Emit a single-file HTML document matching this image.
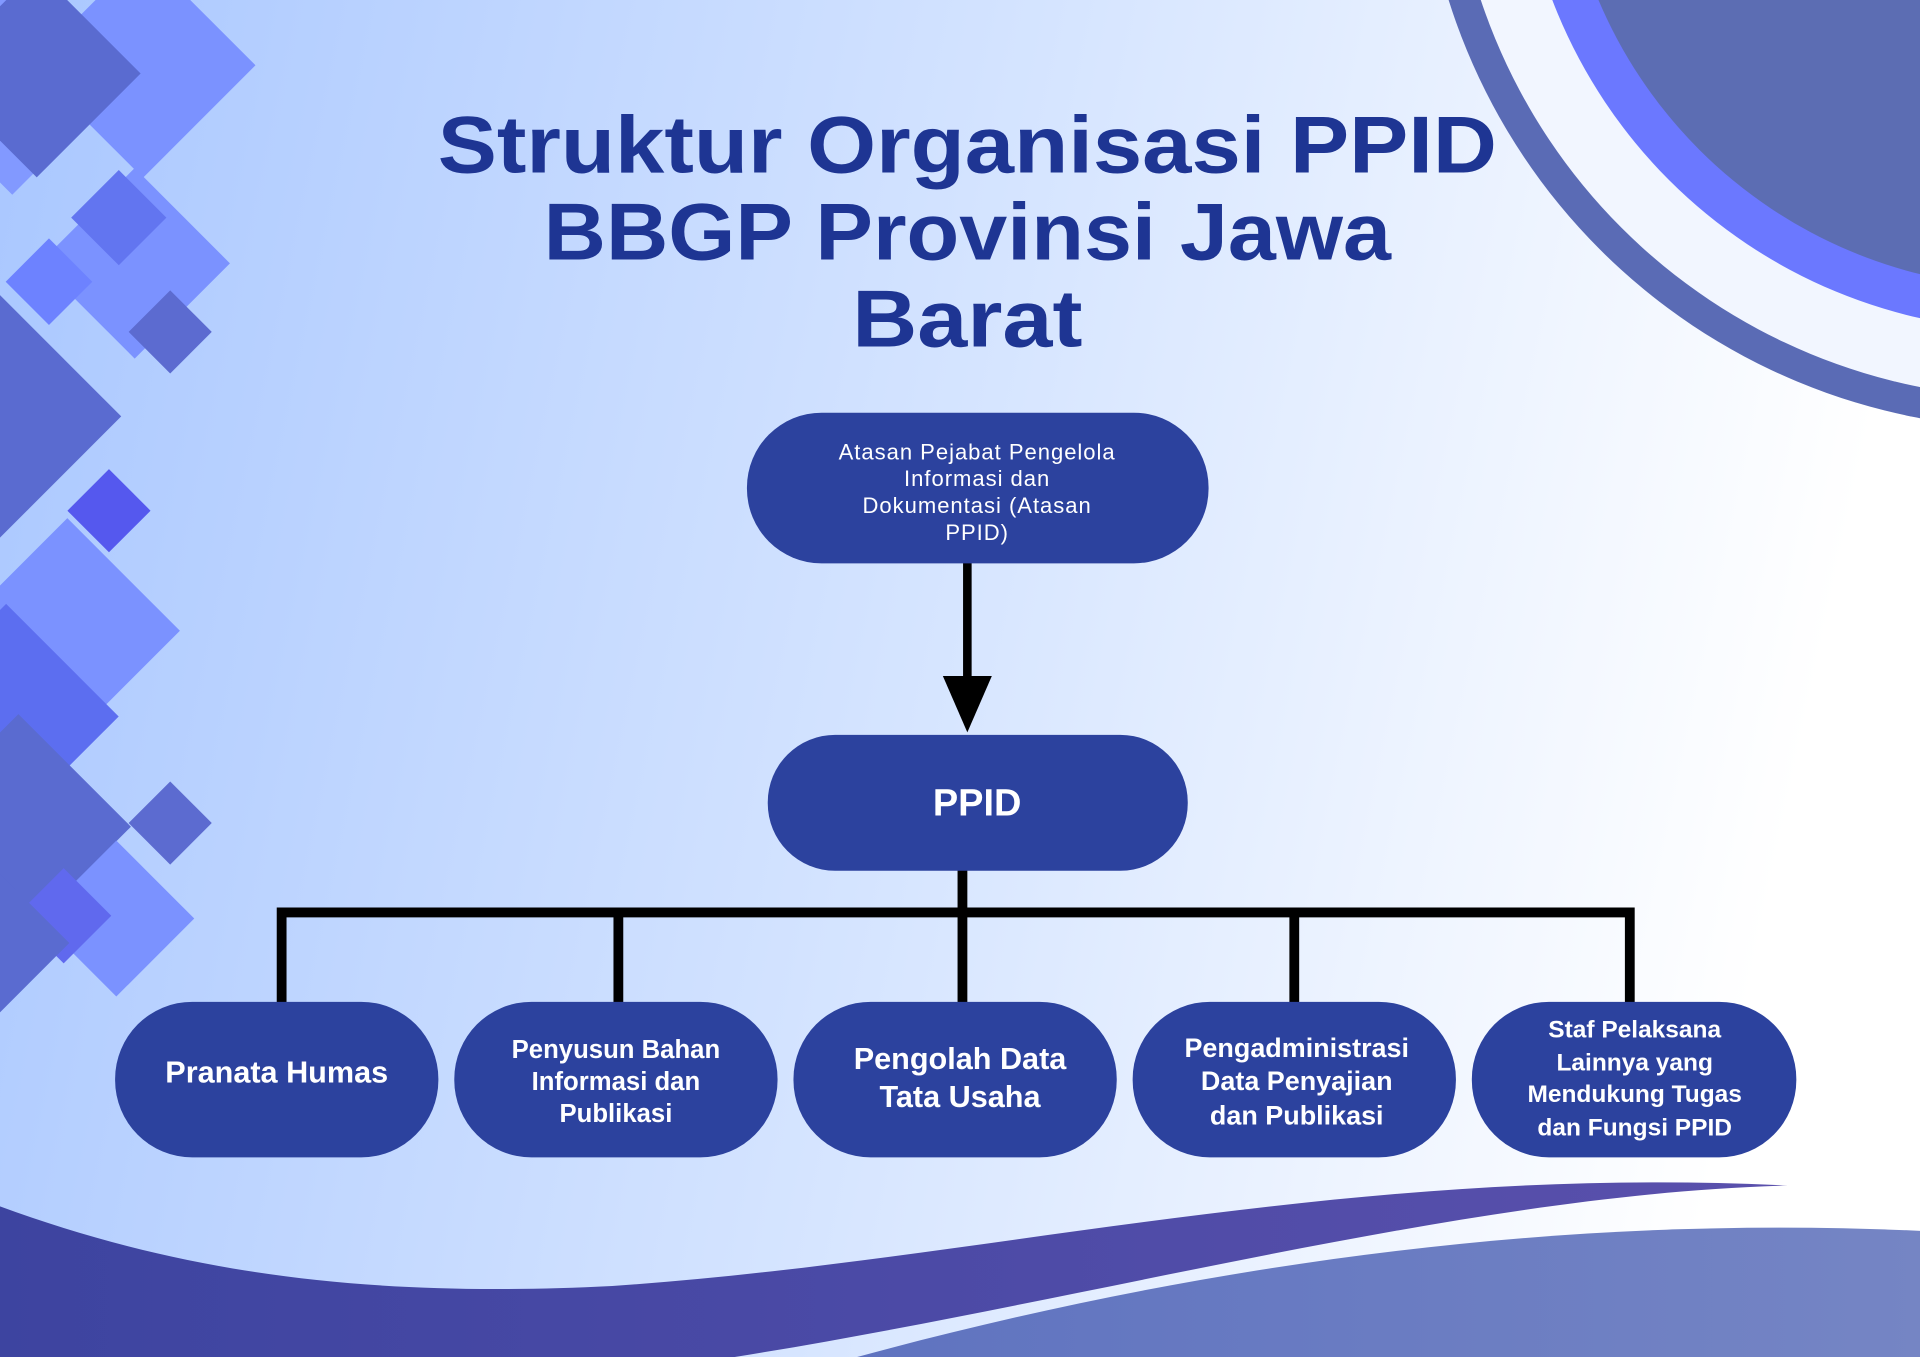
<!DOCTYPE html>
<html><head><meta charset="utf-8"><style>
html,body{margin:0;padding:0;width:1920px;height:1357px;overflow:hidden}
svg{display:block}
</style></head><body>
<svg width="1920" height="1357" viewBox="0 0 1568 1108" preserveAspectRatio="none" xmlns="http://www.w3.org/2000/svg">
<defs>
<linearGradient id="bg" x1="0" y1="0" x2="1" y2="0.15">
<stop offset="0" stop-color="#a9c7ff"/><stop offset="0.55" stop-color="#d6e5ff"/><stop offset="1" stop-color="#ffffff"/>
</linearGradient>
<linearGradient id="wv" x1="0" y1="0" x2="1" y2="0">
<stop offset="0" stop-color="#3d44a0"/><stop offset="1" stop-color="#5a50ac"/>
</linearGradient>
<linearGradient id="wv2" x1="0" y1="0" x2="1" y2="0">
<stop offset="0" stop-color="#5f73c0"/><stop offset="1" stop-color="#7585c4"/>
</linearGradient>
</defs>
<rect width="1568" height="1108" fill="url(#bg)"/>
<circle cx="1660" cy="-150" r="500" fill="#5a6bb5"/>
<circle cx="1660" cy="-150" r="475" fill="#f2f6ff"/>
<circle cx="1660" cy="-150" r="420" fill="#6b78ff"/>
<circle cx="1660" cy="-150" r="385" fill="#5c6db3"/>
<g>
<rect x="-60" y="-10" width="140" height="140" transform="rotate(45 10 60)" fill="#7d93ff" opacity="0.9"/>
<rect x="80" y="-40" width="130" height="130" transform="rotate(45 145 25) translate(0 40)" fill="#7b92ff"/>
<rect x="-30" y="0" width="120" height="120" transform="rotate(45 30 60)" fill="#5a6bd0"/>
<rect x="55" y="160" width="110" height="110" transform="rotate(45 110 215)" fill="#7b92ff"/>
<rect x="70" y="150" width="55" height="55" transform="rotate(45 97 177)" fill="#6275f0"/>
<rect x="15" y="205" width="50" height="50" transform="rotate(45 40 230)" fill="#6d82ff"/>
<rect x="115" y="247" width="48" height="48" transform="rotate(45 139 271)" fill="#5c6bd0"/>
<rect x="-70" y="270" width="140" height="140" transform="rotate(45 0 340)" fill="#5a6bd0"/>
<rect x="65" y="393" width="48" height="48" transform="rotate(45 89 417)" fill="#5558ee"/>
<rect x="-10" y="450" width="130" height="130" transform="rotate(45 55 515)" fill="#7b92ff"/>
<rect x="-60" y="520" width="130" height="130" transform="rotate(45 5 585)" fill="#5c6ef0"/>
<rect x="-50" y="610" width="130" height="130" transform="rotate(45 15 675)" fill="#5a6bd0"/>
<rect x="115" y="648" width="48" height="48" transform="rotate(45 139 672)" fill="#5c6bd0"/>
<rect x="50" y="705" width="90" height="90" transform="rotate(45 95 750)" fill="#7b92ff"/>
<rect x="25" y="720" width="55" height="55" transform="rotate(45 52 747)" fill="#6069ee"/>
<rect x="-40" y="730" width="80" height="80" transform="rotate(45 0 770)" fill="#5a6bd0"/>
</g>
<path d="M0,985 C150,1040 300,1060 500,1050 C800,1030 1100,950 1460,968 C1200,975 900,1060 600,1108 L0,1108 Z" fill="url(#wv)"/>
<path d="M700,1108 C950,1040 1250,990 1568,1005 L1568,1108 Z" fill="url(#wv2)"/>
<g font-family="Liberation Sans, sans-serif" font-weight="bold" fill="#1e3593" text-anchor="middle" font-size="66">
<text x="790" y="141" textLength="865" lengthAdjust="spacingAndGlyphs">Struktur Organisasi PPID</text>
<text x="790" y="212" textLength="692" lengthAdjust="spacingAndGlyphs">BBGP Provinsi Jawa</text>
<text x="790" y="283" textLength="188" lengthAdjust="spacingAndGlyphs">Barat</text>
</g>
<line x1="790" y1="458" x2="790" y2="560" stroke="#000" stroke-width="7"/>
<polygon points="770,552 810,552 790,598" fill="#000"/>
<g stroke="#000" stroke-width="8" fill="none">
<line x1="786" y1="708" x2="786" y2="820"/>
<polyline points="230,820 230,745 1331,745 1331,820"/>
<line x1="505" y1="745" x2="505" y2="820"/>
<line x1="1057" y1="745" x2="1057" y2="820"/>
</g>
<g fill="#2c429e">
<rect x="610" y="337" width="377" height="123" rx="61"/>
<rect x="627" y="600" width="343" height="111" rx="55"/>
<rect x="94" y="818" width="264" height="127" rx="63"/>
<rect x="371" y="818" width="264" height="127" rx="63"/>
<rect x="648" y="818" width="264" height="127" rx="63"/>
<rect x="925" y="818" width="264" height="127" rx="63"/>
<rect x="1202" y="818" width="265" height="127" rx="63"/>
</g>
<g font-family="Liberation Sans, DejaVu Sans, sans-serif" fill="#fff" text-anchor="middle">
<g font-size="18" letter-spacing="0.8">
<text x="798" y="375">Atasan Pejabat Pengelola</text>
<text x="798" y="397">Informasi dan</text>
<text x="798" y="419">Dokumentasi (Atasan</text>
<text x="798" y="441">PPID)</text>
</g>
<text x="798" y="666" font-size="31" font-weight="bold">PPID</text>
<g font-weight="bold">
<text x="226" y="884" font-size="25">Pranata Humas</text>
<g font-size="21"><text x="503" y="864">Penyusun Bahan</text><text x="503" y="890">Informasi dan</text><text x="503" y="916">Publikasi</text></g>
<g font-size="25"><text x="784" y="873">Pengolah Data</text><text x="784" y="904">Tata Usaha</text></g>
<g font-size="22"><text x="1059" y="863">Pengadministrasi</text><text x="1059" y="890">Data Penyajian</text><text x="1059" y="918">dan Publikasi</text></g>
<g font-size="20"><text x="1335" y="847">Staf Pelaksana</text><text x="1335" y="874">Lainnya yang</text><text x="1335" y="900">Mendukung Tugas</text><text x="1335" y="927">dan Fungsi PPID</text></g>
</g>
</g>
</svg>
</body></html>
